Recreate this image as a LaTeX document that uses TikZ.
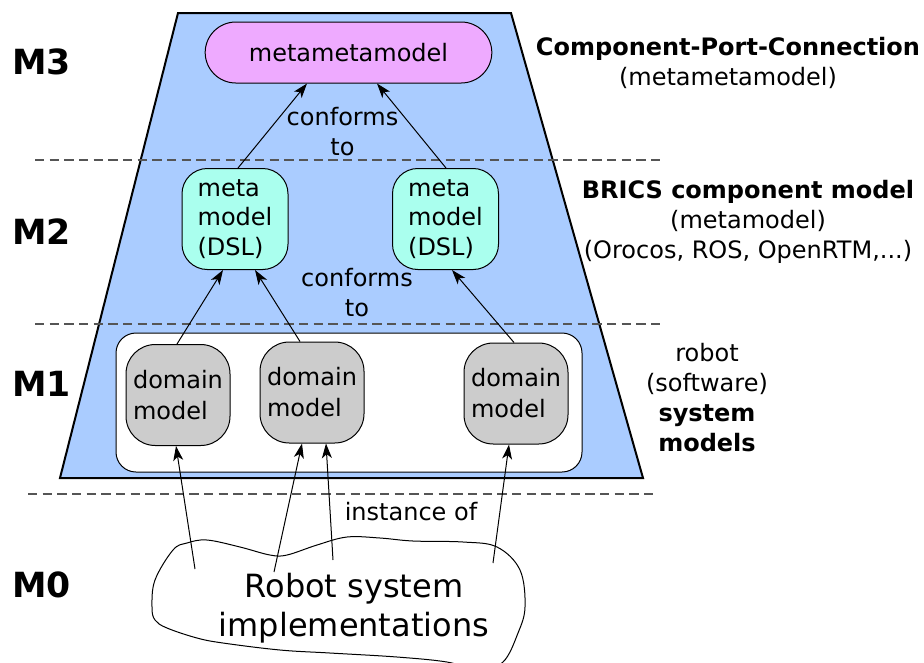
\documentclass[tikz,border=0pt]{standalone}
\usepackage{fontspec}
\setmainfont{DejaVu Sans}
\usetikzlibrary{arrows.meta,calc}

\definecolor{layerblue}{RGB}{170,204,255}
\definecolor{mmpink}{RGB}{238,170,255}
\definecolor{metacyan}{RGB}{170,255,238}
\definecolor{domgray}{RGB}{204,204,204}
\definecolor{sepgray}{RGB}{85,85,85}

\begin{document}
\begin{tikzpicture}[x=0.75pt,y=0.75pt,yscale=-1,xscale=1,
  txt/.style={font=\fontsize{18}{22.5}\selectfont, inner sep=0pt, align=center},
  bigtxt/.style={font=\fontsize{24}{29.25}\selectfont, inner sep=0pt, align=center},
  lvl/.style={font=\fontsize{26}{30}\selectfont\bfseries, inner sep=0pt, anchor=west},
  mmbox/.style={draw, line width=0.75pt, fill=mmpink, rounded corners=23pt, minimum width=215pt, minimum height=45.75pt, font=\fontsize{18}{22.5}\selectfont},
  metabox/.style={draw, line width=0.75pt, fill=metacyan, rounded corners=19pt, minimum width=79.5pt, minimum height=75.75pt, align=left, font=\fontsize{18}{22}\selectfont},
  dombox/.style={draw, line width=0.75pt, fill=domgray, rounded corners=22pt, minimum width=78pt, minimum height=75.75pt, align=left, font=\fontsize{18}{23.25}\selectfont},
  sep/.style={draw=sepgray, dash pattern=on 7pt off 4pt, line width=0.8pt},
  conn/.style={-{Stealth[length=11pt,width=7.5pt,inset=3pt]}, line width=0.75pt}
]
\useasboundingbox (0,0) rectangle (924,662);

% layers
\draw [line width=1.5pt, fill=layerblue] (178,13) -- (511,13) -- (643,478) -- (60,478) -- cycle;
\draw [sep] (35,160) -- (662,160);
\draw [sep] (35,324) -- (662,324);
\draw [sep] (28,494) -- (655,494);

% system models container
\draw [fill=white, rounded corners=15pt, line width=0.75pt] (116,333) rectangle (582,472);

% level names
\node [lvl] (m3) at (12,62) {M3};
\node [lvl] (m2) at (12,232) {M2};
\node [lvl] (m1) at (12,384) {M1};
\node [lvl] (m0) at (12,585) {M0};

% models
\node [mmbox] (mm) at (348.5,52.5) {metametamodel};
\node [metabox] (meta1) at (235,219) {meta\\model\\(DSL)};
\node [metabox] (meta2) at (445.5,219) {meta\\model\\(DSL)};
\node [dombox] (dom1) at (178,395) {domain\\model};
\node [dombox] (dom2) at (312,392.5) {domain\\model};
\node [dombox] (dom3) at (516,393.5) {domain\\model};

% implementations
\draw [line width=0.75pt] plot [smooth cycle, tension=0.6] coordinates {(173,550) (155,580) (152,607) (155,620) (167,628) (197,638) (223,643) (280,650) (330,653) (397,657) (447,662) (478,670) (503,662) (518,633) (525,607) (520,570) (497,547) (463,542) (413,541) (380,538) (347,537) (317,545) (287,555) (270,555) (240,547) (207,540) (187,543)};
\node [bigtxt] (impl) at (354,608) {Robot system\\implementations};
\coordinate (t1) at (195,569);
\coordinate (t2) at (274,572);
\coordinate (t3) at (333,560);
\coordinate (t4) at (493,563);

% labels
\node [txt] (conf1) at (342.5,132) {conforms\\to};
\node [txt] (conf2) at (357,293) {conforms\\to};
\node [txt] (inst) at (411,512) {instance of};
\node [txt] (cpc) at (728,63) {\textbf{Component-Port-Connection}\\(metametamodel)};
\node [txt] (brics) at (748,222) {\textbf{BRICS component model}\\(metamodel)\\(Orocos, ROS, OpenRTM,...)};
\node [txt] (sysm) at (707,398) {robot\\(software)\\\textbf{system}\\\textbf{models}};

% conforms to
\draw [conn] ($(meta1.north)+(3,0)$) -- ($(mm.south)+(-41.5,0)$);
\draw [conn] ($(meta2.north)+(0.5,0)$) -- ($(mm.south)+(28.5,0)$);
\draw [conn] ($(dom1.north)+(-1,0)$) -- ($(meta1.south)+(-12,0)$);
\draw [conn] ($(dom2.north)+(-12,0)$) -- ($(meta1.south)+(20,0)$);
\draw [conn] ($(dom3.north)+(-2,0)$) -- ($(meta2.south)+(6.5,0)$);

% instance of
\draw [conn] (t1) -- ($(dom1.south)+(-2,0)$);
\draw [conn] (t2) -- ($(dom2.south)+(-10,0)$);
\draw [conn] (t3) -- ($(dom2.south)+(14,0)$);
\draw [conn] (t4) -- ($(dom3.south)+(-7,0)$);

\end{tikzpicture}
\end{document}
